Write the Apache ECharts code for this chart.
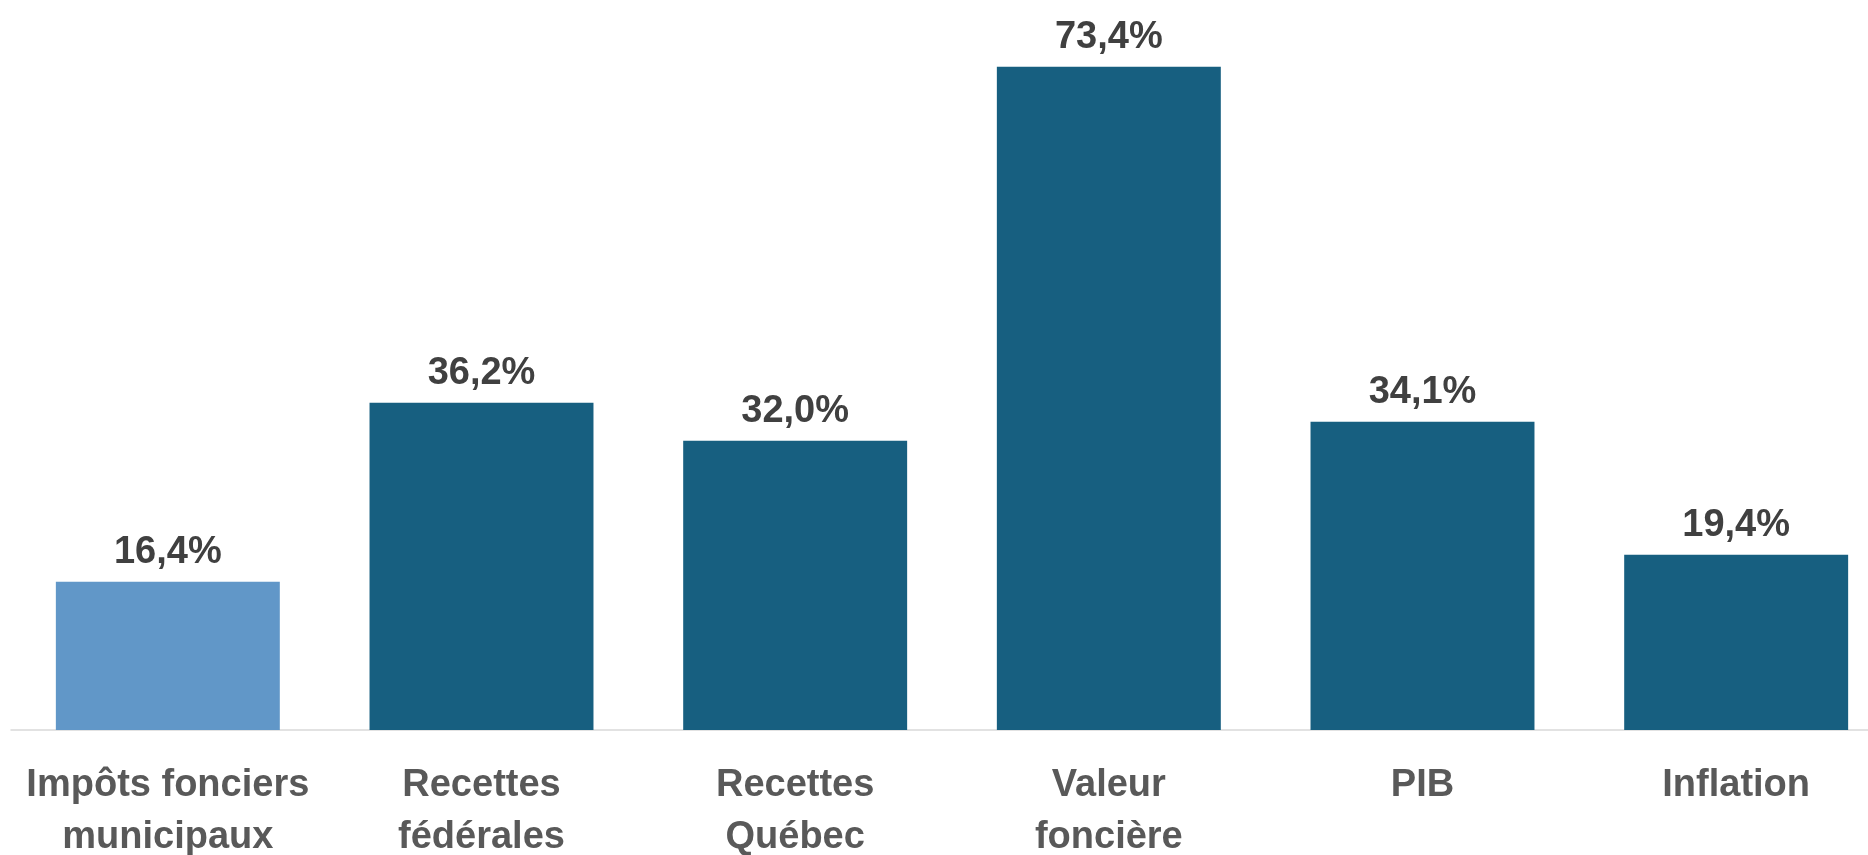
<!DOCTYPE html>
<html>
<head>
<meta charset="utf-8">
<script src="https://cdn.jsdelivr.net/npm/echarts@6/dist/echarts.min.js"></script>
<style>
html,body{margin:0;padding:0;background:#fff;}
#chart{width:1868px;height:855px;}
</style>
</head>
<body>
<div id="chart"></div>
<script>
const categories = ["Impôts fonciers\nmunicipaux", "Recettes\nfédérales", "Recettes\nQuébec", "Valeur\nfoncière", "PIB", "Inflation"];
const values = [16.4, 36.2, 32.0, 73.4, 34.1, 19.4];
const barColors = ["#6197c8", "#175f80", "#175f80", "#175f80", "#175f80", "#175f80"];

const chart = echarts.init(document.getElementById('chart'));
const fontFamily = '"Liberation Sans", Arial, sans-serif';
chart.setOption({
  animation: false,
  grid: { left: 11, width: 1882, top: 7, bottom: 125, containLabel: false, outerBoundsMode: 'none' },
  xAxis: {
    type: 'category',
    data: categories,
    axisTick: { show: false },
    axisLine: { lineStyle: { color: '#d9d9d9', width: 1.5 } },
    axisLabel: {
      interval: 0,
      margin: 30,
      color: '#595959',
      fontFamily: fontFamily,
      fontWeight: 'bold',
      fontSize: 38,
      lineHeight: 52
    }
  },
  yAxis: {
    type: 'value',
    min: 0,
    max: 80,
    show: false,
    splitLine: { show: false }
  },
  series: [{
    type: 'bar',
    barCategoryGap: '28.6%',
    data: values.map((v, i) => ({ value: v, itemStyle: { color: barColors[i] } })),
    label: {
      show: true,
      position: 'top',
      distance: 10,
      color: '#404040',
      fontFamily: fontFamily,
      fontWeight: 'bold',
      fontSize: 38,
      formatter: p => p.value.toFixed(1).replace('.', ',') + '%'
    }
  }]
});
</script>
</body>
</html>
